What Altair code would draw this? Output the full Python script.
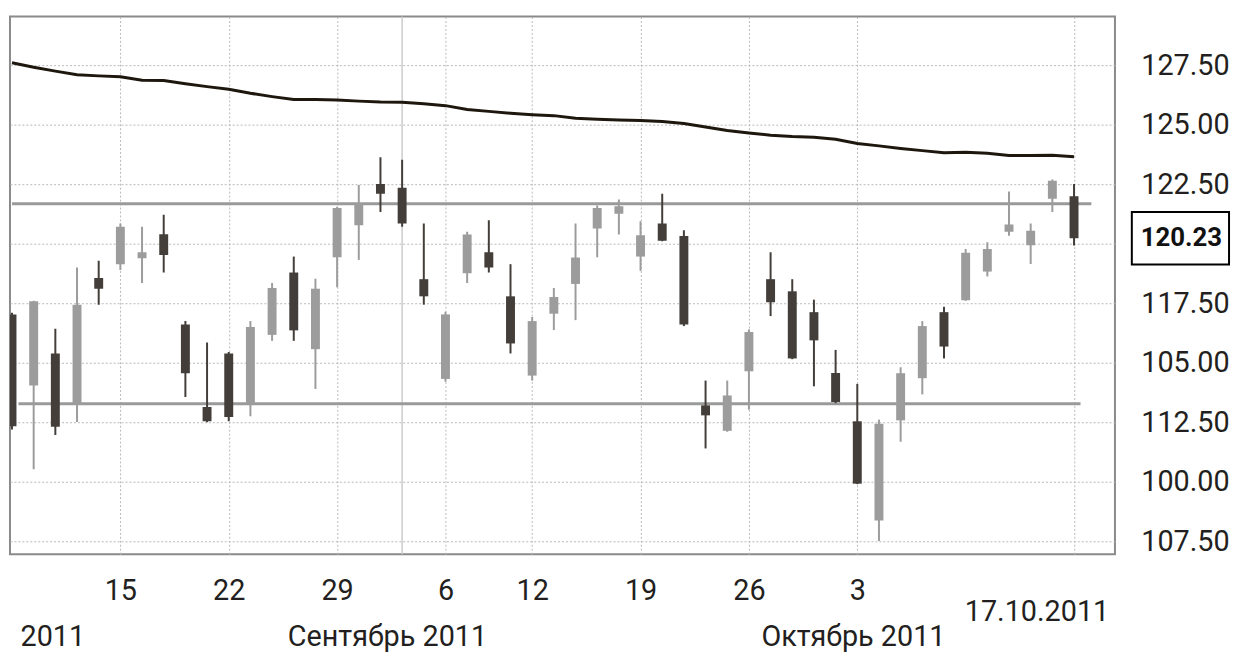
import altair as alt
import pandas as pd

# ---- data ----
idx = list(range(50))
opens = [117.03, 114.04, 115.39, 113.28, 118.56, 119.14, 119.39, 120.40, 116.61, 113.14,
         115.39, 113.28, 116.17, 118.79, 115.57, 119.43, 120.78, 122.51, 122.35, 118.51,
         114.32, 118.76, 119.64, 117.79, 114.46, 117.06, 118.31, 120.64, 121.26, 119.46,
         120.85, 120.32, 113.21, 112.14, 114.64, 118.51, 118.00, 117.125, 114.57, 112.54,
         108.375, 112.58, 114.35, 117.125, 117.625, 118.83, 120.50, 119.94, 121.89, 121.99]
highs = [117.10, 117.60, 116.43, 119.00, 119.28, 120.85, 120.71, 121.22, 116.75, 115.85,
         115.45, 116.75, 118.35, 119.46, 118.53, 121.55, 122.47, 123.63, 123.53, 120.85,
         117.14, 120.50, 120.99, 119.14, 116.92, 118.14, 120.85, 121.61, 121.86, 120.94,
         122.10, 120.57, 114.25, 114.25, 116.40, 119.64, 118.51, 117.65, 115.54, 114.11,
         112.61, 114.81, 116.75, 117.35, 119.78, 120.06, 122.19, 120.85, 122.70, 122.51]
lows = [112.20, 110.53, 111.96, 112.51, 117.44, 118.90, 118.35, 118.79, 113.56, 112.50,
        112.54, 112.75, 115.92, 115.92, 113.90, 118.17, 119.32, 121.33, 120.71, 117.44,
        114.20, 118.35, 118.79, 115.39, 114.25, 116.375, 116.79, 119.43, 120.39, 118.86,
        120.10, 116.54, 111.40, 112.10, 113.03, 116.96, 115.15, 114.01, 113.30, 109.90,
        107.51, 111.68, 113.67, 115.18, 117.60, 118.625, 120.33, 119.15, 121.33, 119.92]
closes = [112.33, 117.58, 112.31, 117.44, 118.11, 120.71, 119.64, 119.53, 114.56, 112.54,
          112.72, 116.50, 118.14, 116.36, 118.11, 121.50, 121.68, 122.10, 120.85, 117.79,
          117.03, 120.39, 119.00, 115.81, 116.75, 117.76, 119.42, 121.50, 121.57, 120.36,
          120.125, 116.61, 112.79, 113.625, 116.29, 117.54, 115.18, 115.94, 113.35, 109.92,
          112.44, 114.56, 116.54, 115.68, 119.625, 119.78, 120.81, 120.54, 122.65, 120.23]
ma = [127.60, 127.41, 127.25, 127.10, 127.05, 127.01, 126.87, 126.86, 126.72, 126.60,
      126.49, 126.32, 126.18, 126.06, 126.06, 126.04, 125.99, 125.95, 125.94, 125.88,
      125.80, 125.64, 125.56, 125.48, 125.42, 125.38, 125.27, 125.23, 125.20, 125.18,
      125.13, 125.05, 124.90, 124.76, 124.65, 124.56, 124.50, 124.47, 124.39, 124.21,
      124.11, 124.00, 123.91, 123.82, 123.84, 123.80, 123.71, 123.71, 123.72, 123.65]

week_ticks = [5, 10, 15, 20, 24, 29, 34, 39, 49]
week_labels = ["15", "22", "29", "6", "12", "19", "26", "3", ""]
end_tick = [49]
end_label = ["17.10.2011"]
month_pos = [1.86, 17.3, 38.8]
month_labels = ["2011", "Сентябрь 2011", "Октябрь 2011"]
month_start = [18]
y_ticks = [127.5, 125.0, 122.5, 120.0, 117.5, 115.0, 112.5, 110.0, 107.5]
y_labels = ["127.50", "125.00", "122.50", "", "117.50", "105.00", "112.50", "100.00", "107.50"]
level_values = [121.68, 113.28]
level_from = [0.0, 0.3]
level_to = [49.8, 49.3]
last_price = [120.23]
last_label = ["120.23"]

# ---- tables ----
candles = pd.DataFrame({"i": idx, "open": opens, "high": highs, "low": lows,
                        "close": closes, "ma": ma})
candles["dir"] = ["down" if c < o else "up" for o, c in zip(opens, closes)]
levels = pd.DataFrame({"lvl": level_values, "x1": level_from, "x2": level_to})
mstart = pd.DataFrame({"m": month_start})
last = pd.DataFrame({"v": last_price, "t": last_label})


def lab_expr(vals, labels):
    e = "''"
    for v, l in reversed(list(zip(vals, labels))):
        e = f"(abs(datum.value - {v}) < 0.001) ? '{l}' : ({e})"
    return e


FONT = "Roboto"
TXT = "#231f20"
FS = 29
xs = alt.Scale(domain=[0.136, 50.66], nice=False, zero=False)
ys = alt.Scale(domain=[106.958, 129.542], nice=False, zero=False)

yax = alt.Axis(orient="right", values=y_ticks, labelExpr=lab_expr(y_ticks, y_labels),
               grid=True, gridDash=[2, 2], gridColor="#b8b8b8", gridWidth=1,
               domain=False, ticks=False, tickSize=0, labelPadding=26,
               labelFontSize=FS, labelFont=FONT, labelColor=TXT, title=None,
               labelOverlap=False, labelLimit=0)

common = dict(domain=False, ticks=False, tickSize=0, labelBaseline="middle",
              labelFlush=False, labelOverlap=False, labelLimit=0,
              labelFontSize=FS, labelFont=FONT, labelColor=TXT, title=None)

week_ax = alt.Axis(orient="bottom", values=week_ticks, labelExpr=lab_expr(week_ticks, week_labels),
                   grid=True, gridDash=[2, 2], gridColor="#b8b8b8", gridWidth=1,
                   labelPadding=37, **common)
month_ax = alt.Axis(orient="bottom", values=month_pos, labelExpr=lab_expr(month_pos, month_labels),
                    grid=False, labelPadding=83, **common)
end_ax = alt.Axis(orient="bottom", values=end_tick, labelExpr=lab_expr(end_tick, end_label),
                  grid=False, labelPadding=58, labelAlign="right", labelOffset=35, **common)

color = alt.Color("dir:N", scale=alt.Scale(domain=["down", "up"], range=["#433e39", "#9c9c9c"]),
                  legend=None)

msep = alt.Chart(mstart).mark_rule(color="#cccccc", strokeWidth=1.5).encode(
    x=alt.X("m:Q", scale=xs, axis=None))

lvl = alt.Chart(levels).mark_rule(color="#9a9a9a", strokeWidth=3, clip=True).encode(
    x=alt.X("x1:Q", scale=xs, axis=None), x2="x2:Q",
    y=alt.Y("lvl:Q", scale=ys, axis=yax))

line = alt.Chart(candles).mark_line(color="#1e170e", strokeWidth=3, clip=True).encode(
    x=alt.X("i:Q", scale=xs, axis=end_ax),
    y=alt.Y("ma:Q", scale=ys, axis=yax))

wick = alt.Chart(candles).mark_rule(strokeWidth=2, clip=True).encode(
    x=alt.X("i:Q", scale=xs, axis=week_ax),
    y=alt.Y("low:Q", scale=ys, axis=yax), y2="high:Q",
    color=color)

body = alt.Chart(candles).mark_bar(size=9, clip=True).encode(
    x=alt.X("i:Q", scale=xs, axis=month_ax),
    y=alt.Y("open:Q", scale=ys, axis=yax), y2="close:Q",
    color=color)

box_shape = "M-1,-0.54L1,-0.54L1,0.54L-1,0.54Z"
box = alt.Chart(last).mark_point(shape=box_shape, size=98 * 98, filled=False,
                                 fill="white", stroke="black", strokeWidth=2,
                                 opacity=1, fillOpacity=1).encode(
    x=alt.value(1180), y=alt.Y("v:Q", scale=ys, axis=yax))

box_txt = alt.Chart(last).mark_text(font=FONT, fontSize=26, fontWeight="bold",
                                    color="#111111", baseline="middle", align="center").encode(
    x=alt.value(1181), y=alt.Y("v:Q", scale=ys, axis=yax), text="t:N")

chart = alt.layer(msep, lvl, line, wick, body, box, box_txt).resolve_axis(
    x="independent"
).properties(
    width=1114, height=542,
    padding={"left": 2, "top": 5, "right": 0, "bottom": 0},
    background="white",
).configure_view(
    stroke="#8a8a8a", strokeWidth=2
)

chart.save("out.html", embed_options={"renderer": "svg", "actions": False})
